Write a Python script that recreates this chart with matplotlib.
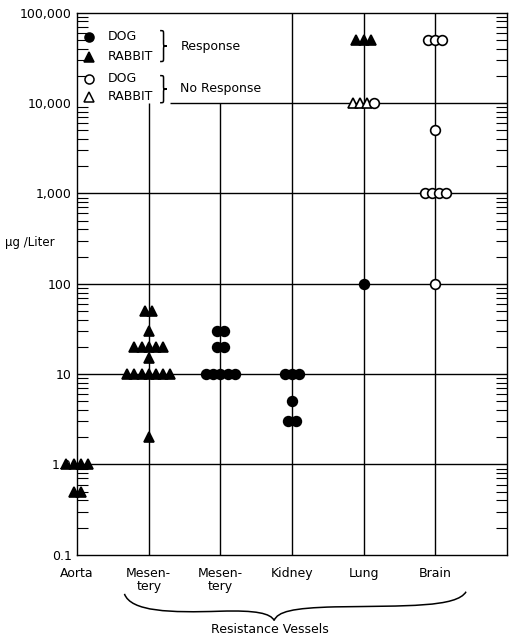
import numpy as np
import matplotlib
matplotlib.use("Agg")
import matplotlib.pyplot as plt
from matplotlib.path import Path
from matplotlib.patches import PathPatch
import matplotlib.transforms as mtransforms

plt.rcParams['font.family'] = ['DejaVu Sans']

# ─── Data ────────────────────────────────────────────────────────────────────
categories = ["Aorta", "Mesen-\ntery", "Mesen-\ntery", "Kidney", "Lung", "Brain"]
ytick_vals = [0.1, 1, 10, 100, 1000, 10000, 100000]
ytick_labels = ["0.1", "1.0", "10", "100", "1,000", "10,000", "100,000"]

# column index -> concentration (ug/L)
rabbit_resp_col = [0, 0, 0, 0, 0, 0,
                   1, 1, 1, 1, 1, 1, 1, 1, 1, 1, 1, 1, 1, 1, 1, 1, 1,
                   4, 4, 4]
rabbit_resp_val = [1.0, 1.0, 1.0, 1.0, 0.5, 0.5,
                   50, 50, 30, 20, 20, 20, 20, 20, 15, 10, 10, 10, 10, 10, 10, 10, 2,
                   50000, 50000, 50000]

dog_resp_col = [2, 2, 2, 2, 2, 2, 2, 2, 2, 3, 3, 3, 3, 3, 3, 4]
dog_resp_val = [30, 30, 20, 20, 10, 10, 10, 10, 10, 10, 10, 10, 5, 3, 3, 100]

rabbit_noresp_col = [4, 4, 4]
rabbit_noresp_val = [10000, 10000, 10000]

dog_noresp_col = [4, 5, 5, 5, 5, 5, 5, 5, 5, 5]
dog_noresp_val = [10000, 50000, 50000, 50000, 5000, 1000, 1000, 1000, 1000, 100]

# ─── Figure ──────────────────────────────────────────────────────────────────
fig = plt.figure(figsize=(5.11, 6.37), dpi=100)
ax = fig.add_axes([0.151, 0.129, 0.841, 0.851])
ax.set_yscale('log')
ax.set_ylim(0.1, 100000)
ax.set_xlim(0, 6)

for s in ax.spines.values():
    s.set_linewidth(1.0)

ax.set_yticks(ytick_vals)
ax.set_yticklabels(ytick_labels, fontsize=9)
ax.yaxis.set_minor_locator(matplotlib.ticker.LogLocator(base=10, subs=np.arange(2, 10)))
ax.yaxis.set_minor_formatter(matplotlib.ticker.NullFormatter())
ax.tick_params(axis='y', which='major', direction='in', length=0, pad=4, right=True)
ax.tick_params(axis='y', which='minor', direction='in', length=8, width=0.8, right=True, left=True)

ax.set_xticks(range(len(categories)))
ax.set_xticklabels(categories, fontsize=9, linespacing=0.95)
ax.tick_params(axis='x', length=0, pad=9)

# grid lines, drawn by hand (legend area is left clear)
for v in ytick_vals[1:-1]:
    x0 = 1.29 if v == 10000 else 0
    ax.hlines(v, x0, 6, color='black', lw=1.0, zorder=1)
for c in range(1, len(categories)):
    top = 10000 if c <= 2 else 100000
    ax.vlines(c, 0.1, top, color='black', lw=1.0, zorder=1)

# ─── Points ──────────────────────────────────────────────────────────────────
series = [
    (rabbit_resp_col, rabbit_resp_val, dict(marker='^', mfc='black', mec='black')),
    (dog_resp_col, dog_resp_val, dict(marker='o', mfc='black', mec='black')),
    (rabbit_noresp_col, rabbit_noresp_val, dict(marker='^', mfc='white', mec='black')),
    (dog_noresp_col, dog_noresp_val, dict(marker='o', mfc='white', mec='black')),
]

groups = {}
for cols, vals, style in series:
    for c, v in zip(cols, vals):
        groups.setdefault((c, v), []).append(style)

step = 0.1
for (c, v), styles in groups.items():
    n = len(styles)
    for i, st in enumerate(styles):
        xo = c + (i - (n - 1) / 2) * step
        ax.plot(xo, v, ls='none', ms=7, mew=1.2, clip_on=False, zorder=4, **st)


def vbrace(x0, yt, yb, w):
    """Right-pointing curly brace in axes coords."""
    a = w / 2
    ym = (yt + yb) / 2
    r = (yt - yb) * 0.12
    verts = [(x0, yt), (x0 + a, yt), (x0 + a, yt), (x0 + a, yt - r),
             (x0 + a, ym + r),
             (x0 + a, ym), (x0 + a, ym), (x0 + w, ym),
             (x0 + a, ym), (x0 + a, ym), (x0 + a, ym - r),
             (x0 + a, yb + r),
             (x0 + a, yb), (x0 + a, yb), (x0, yb)]
    codes = ([Path.MOVETO] + [Path.CURVE4] * 3 + [Path.LINETO] + [Path.CURVE4] * 6
             + [Path.LINETO] + [Path.CURVE4] * 3)
    ax.add_patch(PathPatch(Path(verts, codes), transform=ax.transAxes, fill=False,
                           lw=1.1, color='black', clip_on=False, zorder=5))


# ─── Legend ──────────────────────────────────────────────────────────────────
leg_items = [
    (0.956, dict(marker='o', mfc='black', mec='black'), "DOG"),
    (0.919, dict(marker='^', mfc='black', mec='black'), "RABBIT"),
    (0.878, dict(marker='o', mfc='white', mec='black'), "DOG"),
    (0.845, dict(marker='^', mfc='white', mec='black'), "RABBIT"),
]
for y, st, lab in leg_items:
    ax.plot(0.027, y, transform=ax.transAxes, ls='none', ms=6.5, mew=1.1,
            clip_on=False, zorder=5, **st)
    ax.text(0.072, y, lab, transform=ax.transAxes, fontsize=9,
            va='center', ha='left')
vbrace(0.193, 0.967, 0.910, 0.016)
vbrace(0.193, 0.884, 0.834, 0.016)
ax.text(0.24, 0.938, "Response", transform=ax.transAxes, fontsize=9,
        va='center', ha='left')
ax.text(0.24, 0.861, "No Response", transform=ax.transAxes, fontsize=9,
        va='center', ha='left')

ax.text(-0.167, 0.576, "\u00b5g /Liter", transform=ax.transAxes, fontsize=8.5,
        va='center', ha='left')

# ─── Brace under resistance vessels ─────────────────────────────────────────
trans = mtransforms.blended_transform_factory(ax.transData, ax.transAxes)
verts = [(0.66, -0.072), (0.75, -0.105), (1.3, -0.107), (2.0, -0.104),
         (2.5, -0.102), (2.7, -0.108), (2.75, -0.121),
         (2.8, -0.105), (3.0, -0.098), (3.6, -0.096),
         (4.6, -0.094), (5.3, -0.097), (5.43, -0.068)]
codes = [Path.MOVETO] + [Path.CURVE4] * 12
ax.add_patch(PathPatch(Path(verts, codes), transform=trans, fill=False,
                       lw=1.1, color='black', clip_on=False))
ax.text(2.69, -0.137, "Resistance Vessels", transform=trans, fontsize=9,
        ha='center', va='center')

fig.savefig("out.png", dpi=100)
